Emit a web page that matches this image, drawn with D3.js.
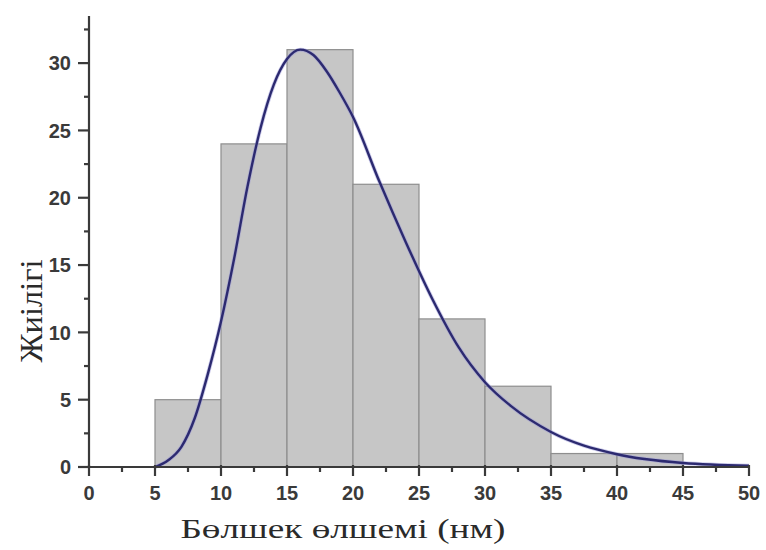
<!DOCTYPE html>
<html>
<head>
<meta charset="utf-8">
<script src="https://cdn.jsdelivr.net/npm/d3@7"></script>
<style>
    body { margin: 0; background: #fff; }
    #chart { width: 766px; height: 550px; }
    .tick-label { font-family: "Liberation Sans", Arial, sans-serif; font-weight: bold; font-size: 20px; fill: #3a3a3a; }
    .axis-title { font-family: "Liberation Serif", "Times New Roman", serif; fill: #2a2a2a; }
</style>
</head>
<body>
<div id="chart"></div>
<script>
// histogram bins (nm) and counts
const binStart = [5, 10, 15, 20, 25, 30, 35, 40];
const binEnd = [10, 15, 20, 25, 30, 35, 40, 45];
const counts = [5, 24, 31, 21, 11, 6, 1, 1];

// fitted distribution curve
const fitX = [5, 6, 7, 8, 9, 10, 11, 12, 13, 14, 15, 16, 17, 18, 19, 20, 22, 24, 26, 28, 30, 32, 35, 40, 45, 50];
const fitY = [0, 0.5, 1.5, 3.6, 6.9, 10.8, 15.5, 20.8, 25.2, 28.4, 30.3, 31.0, 30.6, 29.4, 27.8, 26.0, 21.2, 16.7, 12.5, 8.9, 6.3, 4.5, 2.6, 0.95, 0.3, 0.1];

const xTicks = [0, 5, 10, 15, 20, 25, 30, 35, 40, 45, 50];
const yTicks = [0, 5, 10, 15, 20, 25, 30];
const xMinor = [2.5, 7.5, 12.5, 17.5, 22.5, 27.5, 32.5, 37.5, 42.5, 47.5];
const yMinor = [2.5, 7.5, 12.5, 17.5, 22.5, 27.5, 32.5];

const xTitle = 'Бөлшек өлшемі (нм)';
const yTitle = 'Жиілігі';

const width = 766, height = 550;
const axisColor = '#3a3a3a';

const svg = d3.select('#chart').append('svg')
    .attr('width', width)
    .attr('height', height);

const x = d3.scaleLinear().domain([0, 50]).range([89, 749]);
const y = d3.scaleLinear().domain([0, 33.5]).range([467, 16]);

// bars
const bins = counts.map((c, i) => ({ x0: binStart[i], x1: binEnd[i], n: c }));
svg.append('g').selectAll('rect')
    .data(bins)
    .enter()
    .append('rect')
    .attr('x', d => x(d.x0))
    .attr('y', d => y(d.n))
    .attr('width', d => x(d.x1) - x(d.x0))
    .attr('height', d => y(0) - y(d.n))
    .attr('fill', '#c6c6c6')
    .attr('stroke', '#8e8e8e')
    .attr('stroke-width', 1.2);

// fit curve
const pts = fitX.map((v, i) => [v, fitY[i]]);
const line = d3.line()
    .x(d => x(d[0]))
    .y(d => y(d[1]))
    .curve(d3.curveMonotoneX);

svg.append('path')
    .datum(pts)
    .attr('d', line)
    .attr('fill', 'none')
    .attr('stroke', '#9a98d8')
    .attr('stroke-width', 4)
    .attr('opacity', 0.5);

svg.append('path')
    .datum(pts)
    .attr('d', line)
    .attr('fill', 'none')
    .attr('stroke', '#2c2a70')
    .attr('stroke-width', 2.4);

// x axis
const xAxis = svg.append('g').attr('transform', `translate(0,${y(0)})`);
xAxis.append('line')
    .attr('x1', x(0)).attr('x2', x(50))
    .attr('stroke', axisColor).attr('stroke-width', 2.2);
xAxis.selectAll('.xmaj').data(xTicks).enter().append('line')
    .attr('x1', d => x(d)).attr('x2', d => x(d))
    .attr('y1', -2).attr('y2', 9)
    .attr('stroke', axisColor).attr('stroke-width', 2.2);
xAxis.selectAll('.xmin').data(xMinor).enter().append('line')
    .attr('x1', d => x(d)).attr('x2', d => x(d))
    .attr('y1', 0).attr('y2', 5)
    .attr('stroke', axisColor).attr('stroke-width', 2.2);
xAxis.selectAll('.xlab').data(xTicks).enter().append('text')
    .attr('class', 'tick-label')
    .attr('x', d => x(d))
    .attr('y', 33)
    .attr('text-anchor', 'middle')
    .text(d => d);

// y axis
const yAxis = svg.append('g').attr('transform', `translate(${x(0)},0)`);
yAxis.append('line')
    .attr('y1', y(0)).attr('y2', y(33.5))
    .attr('stroke', axisColor).attr('stroke-width', 2.2);
yAxis.selectAll('.ymaj').data(yTicks).enter().append('line')
    .attr('y1', d => y(d)).attr('y2', d => y(d))
    .attr('x1', -11).attr('x2', 0)
    .attr('stroke', axisColor).attr('stroke-width', 2.2);
yAxis.selectAll('.ymin').data(yMinor).enter().append('line')
    .attr('y1', d => y(d)).attr('y2', d => y(d))
    .attr('x1', -5).attr('x2', 0)
    .attr('stroke', axisColor).attr('stroke-width', 2.2);
yAxis.selectAll('.ylab').data(yTicks).enter().append('text')
    .attr('class', 'tick-label')
    .attr('x', -18)
    .attr('y', d => y(d))
    .attr('dy', '0.36em')
    .attr('text-anchor', 'end')
    .text(d => d);

// titles
svg.append('text')
    .attr('class', 'axis-title')
    .attr('x', 343)
    .attr('y', 538)
    .attr('text-anchor', 'middle')
    .style('font-size', '27px')
    .attr('textLength', 325)
    .attr('lengthAdjust', 'spacingAndGlyphs')
    .text(xTitle);

svg.append('text')
    .attr('class', 'axis-title')
    .attr('transform', 'translate(42,311) rotate(-90)')
    .attr('text-anchor', 'middle')
    .style('font-size', '32px')
    .attr('textLength', 103)
    .attr('lengthAdjust', 'spacingAndGlyphs')
    .text(yTitle);
</script>
</body>
</html>
